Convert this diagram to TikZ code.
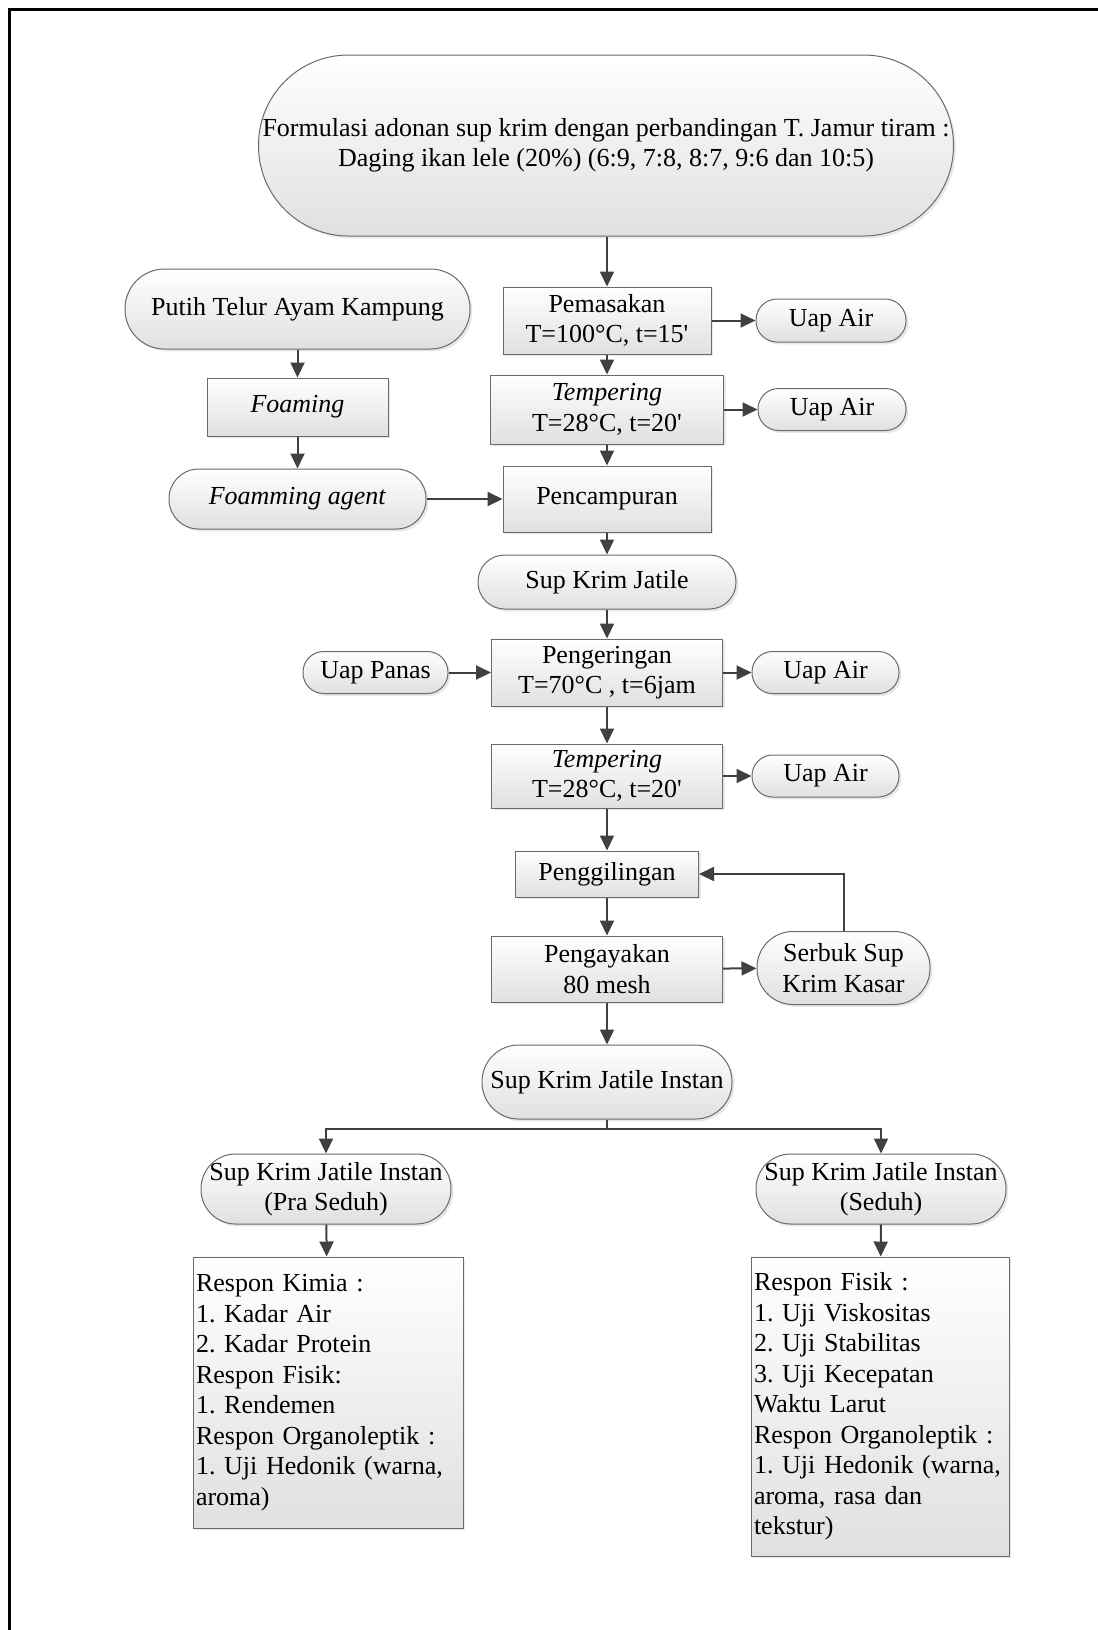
\documentclass[tikz,border=0pt]{standalone}
\usepackage{fontspec}
\setmainfont{Liberation Serif}[Ligatures=TeXOff]
\usetikzlibrary{arrows.meta,shadows}
\definecolor{linecol}{HTML}{404040}
\definecolor{bordercol}{HTML}{6A6A6A}
\definecolor{shadecol}{HTML}{E0E0E0}
\tikzset{
  base/.style={rectangle, draw=bordercol, line width=0.5pt, top color=white, bottom color=shadecol,
    align=center, inner sep=2pt, font=\fontsize{13}{15.25}\selectfont\frenchspacing,
    drop shadow={shadow xshift=1.2pt, shadow yshift=-1.2pt, fill=black!20, opacity=0.45}},
  proc/.style={base},
  term/.style={base, rounded corners=#1},
  resp/.style={base, align=left, inner xsep=1.5pt},
  arr/.style={draw=linecol, line width=1pt, -{Triangle[length=7.5pt,width=7pt]}},
  ln/.style={draw=linecol, line width=1pt},
}
\begin{document}
\begin{tikzpicture}[x=0.5pt, y=-0.5pt]
\useasboundingbox (0,0) rectangle (1098,1630);
\draw[line width=1.5pt, black] (9,1630) -- (9,9) -- (1098,9);

\node[term=45pt, minimum width=347.5pt, minimum height=90.5pt] (top) at (606,145.5)
  {Formulasi adonan sup krim dengan perbandingan T. Jamur tiram :\\Daging ikan lele (20\%) (6:9, 7:8, 8:7, 9:6 dan 10:5)};

\node[proc, minimum width=104pt, minimum height=33.5pt] (pem) at (607,320.5) {Pemasakan\\T=100°C, t=15'};
\node[term=10.5pt, minimum width=75pt, minimum height=21.5pt] (uap1) at (831,320.5) {Uap Air};
\node[proc, minimum width=116.5pt, minimum height=34.5pt] (temp1) at (607,409.5) {\textit{Tempering}\\T=28°C, t=20'};
\node[term=10.3pt, minimum width=74pt, minimum height=21pt] (uap2) at (832,409.5) {Uap Air};
\node[proc, minimum width=104pt, minimum height=33pt] (camp) at (607,499) {Pencampuran};

\node[term=19.8pt, minimum width=172.5pt, minimum height=40pt] (putih) at (297.5,309) {Putih Telur Ayam Kampung};
\node[proc, minimum width=90.5pt, minimum height=29pt] (foam) at (297.5,407) {\textit{Foaming}};
\node[term=14.8pt, minimum width=128.5pt, minimum height=30pt] (agent) at (297.5,499) {\textit{Foamming agent}};

\node[term=13.3pt, minimum width=129pt, minimum height=27pt] (sup) at (607,582) {Sup Krim Jatile};
\node[proc, minimum width=115.5pt, minimum height=33.5pt] (kering) at (607,672.5) {Pengeringan\\T=70°C , t=6jam};
\node[term=10.3pt, minimum width=72.5pt, minimum height=21pt] (panas) at (375.5,672.5) {Uap Panas};
\node[term=10.3pt, minimum width=73.5pt, minimum height=21pt] (uap3) at (825.5,672.5) {Uap Air};
\node[proc, minimum width=115.5pt, minimum height=32pt] (temp2) at (607,776) {\textit{Tempering}\\T=28°C, t=20'};
\node[term=10.3pt, minimum width=73.5pt, minimum height=21pt] (uap4) at (825.5,776) {Uap Air};
\node[proc, minimum width=91.5pt, minimum height=23pt] (giling) at (607,874) {Penggilingan};
\node[proc, minimum width=115.5pt, minimum height=33pt] (ayak) at (607,969) {Pengayakan\\80 mesh};
\node[term=18pt, minimum width=86.5pt, minimum height=36.5pt] (serbuk) at (843.5,968) {Serbuk Sup\\Krim Kasar};

\node[term=18.3pt, minimum width=125pt, minimum height=37pt] (instan) at (607,1082) {Sup Krim Jatile Instan};
\coordinate (split) at (607,1129);
\node[term=17.3pt, minimum width=125pt, minimum height=35pt] (pra) at (326,1189) {Sup Krim Jatile Instan\\(Pra Seduh)};
\node[term=17.3pt, minimum width=125pt, minimum height=35pt] (seduh) at (881,1189) {Sup Krim Jatile Instan\\(Seduh)};

\node[resp, text width=132pt, minimum height=135.5pt] (lresp) at (328,1392.5)
  {Respon Kimia :\\1. Kadar Air\\2. Kadar Protein\\Respon Fisik:\\1. Rendemen\\Respon Organoleptik :\\1. Uji Hedonik (warna,\\aroma)};
\node[resp, text width=126pt, minimum height=149.5pt] (rresp) at (880,1406.5)
  {Respon Fisik :\\1. Uji Viskositas\\2. Uji Stabilitas\\3. Uji Kecepatan\\Waktu Larut\\Respon Organoleptik :\\1. Uji Hedonik (warna,\\aroma, rasa dan\\tekstur)};

% connectors
\draw[arr] (top.south -| pem.north) -- (pem.north);
\draw[arr] (pem) -- (uap1);
\draw[arr] (pem) -- (temp1);
\draw[arr] (temp1) -- (uap2);
\draw[arr] (temp1) -- (camp);
\draw[arr] (putih) -- (foam);
\draw[arr] (foam) -- (agent);
\draw[arr] (agent) -- (camp);
\draw[arr] (camp) -- (sup);
\draw[arr] (sup) -- (kering);
\draw[arr] (panas) -- (kering);
\draw[arr] (kering) -- (uap3);
\draw[arr] (kering) -- (temp2);
\draw[arr] (temp2) -- (uap4);
\draw[arr] (temp2) -- (giling);
\draw[arr] (giling) -- (ayak);
\draw[arr] (ayak) -- (serbuk);
\draw[arr] (serbuk.north) |- (giling.east);
\draw[arr] (ayak) -- (instan);
\draw[ln] (instan.south) -- (split);
\draw[arr] (split) -| (pra.north);
\draw[arr] (split) -| (seduh.north);
\draw[arr] (pra) -- (lresp);
\draw[arr] (seduh) -- (rresp);
\end{tikzpicture}
\end{document}
